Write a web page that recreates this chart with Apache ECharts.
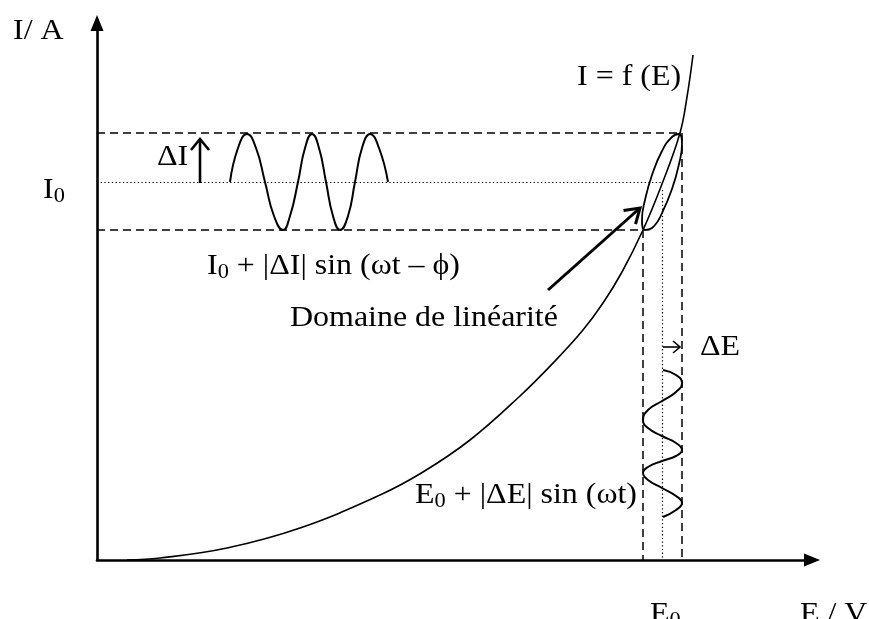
<!DOCTYPE html>
<html>
<head>
<meta charset="utf-8">
<script src="https://cdn.jsdelivr.net/npm/echarts/dist/echarts.min.js"></script>
<style>html,body{margin:0;padding:0;background:#fff}#c{width:869px;height:619px}</style>
</head>
<body>
<div id="c"></div>
<script>
// ---- data (schematic units) ----
const axisEMax = 715;
const axisIMax = 537;

// I = f(E) characteristic
const curveE = [30, 63, 130, 203, 283, 326, 373, 423, 458, 486, 506, 525, 546, 565, 583, 590, 596];
const curveI = [0, 2, 12, 32, 65, 88, 120, 164, 199, 230, 257, 288, 330, 376, 427, 463, 505];

// operating point and perturbation bounds
const E0 = 565, Emin = 546, Emax = 585;
const I0 = 378, Imin = 330, Imax = 427;

// current response wave (horizontal)
const waveIE = [133, 141, 150, 159, 168, 177, 186, 193, 201, 208, 215, 222, 229, 236, 243, 251, 258, 265, 273, 282, 291];
const waveIV = [378, 412, 426, 412, 378, 344, 330, 344, 378, 412, 426, 412, 378, 344, 330, 344, 378, 412, 426, 412, 378];

// potential perturbation wave (vertical)
const waveEE = [566, 579, 585, 579, 565, 551, 546, 551, 565, 579, 585, 579, 565, 551, 546, 551, 565, 579, 585, 579, 566];
const waveEV = [190, 185, 177, 168, 159, 150, 140, 132, 124, 117, 110, 104, 99, 93, 87, 80, 72, 64, 57, 50, 43];

// Lissajous loop
const loopE = [565, 575, 582, 585, 582, 575, 565, 555, 548, 545, 548, 555, 565];
const loopI = [347, 371, 396, 416, 426, 423, 409, 385, 360, 340, 330, 332, 347];

// arrows [E1, I1, E2, I2]
const arrowDI = [103, 377, 103, 421];
const arrowDomain = [451, 270, 543, 352];
const arrowDE = [566, 213, 583, 213];

// ---- build ----
const zip = (a, b) => a.map((v, i) => [v, b[i]]);
const FONT = '"Liberation Serif","Times New Roman",serif';
const INK = '#000';

const arrowStyles = [
  {w: 2.6, len: 11, half: 9},
  {w: 3, len: 14, half: 9},
  {w: 1.6, len: 7, half: 6}
];

const chart = echarts.init(document.getElementById('c'), null, {renderer: 'canvas'});

function lineSeries(data, width, smooth, z) {
  return {
    type: 'line', data: data, smooth: smooth, symbol: 'none', silent: true,
    lineStyle: {color: INK, width: width}, z: z || 3, animation: false
  };
}

function txt(x, y, text, size) {
  return {
    type: 'text', x: x, y: y, scaleX: 1.065, silent: true,
    style: {
      text: text, fill: INK, fontFamily: FONT, fontSize: size || 30,
      lineHeight: 34, align: 'left', verticalAlign: 'middle',
      rich: {s: {fontFamily: FONT, fontSize: 21, lineHeight: 18, verticalAlign: 'bottom', fill: INK}}
    }
  };
}

const option = {
  animation: false,
  backgroundColor: '#fff',
  grid: {left: 97, right: 57, top: 23, bottom: 59, containLabel: false, outerBoundsMode: 'none'},
  xAxis: {
    type: 'value', min: 0, max: axisEMax,
    axisLine: {show: true, onZero: false, symbol: ['none', 'triangle'], symbolSize: [13, 16],
      lineStyle: {color: INK, width: 2.6}},
    axisTick: {show: false}, axisLabel: {show: false}, splitLine: {show: false}
  },
  yAxis: {
    type: 'value', min: 0, max: axisIMax,
    axisLine: {show: true, onZero: false, symbol: ['none', 'triangle'], symbolSize: [13, 16],
      lineStyle: {color: INK, width: 2.6}},
    axisTick: {show: false}, axisLabel: {show: false}, splitLine: {show: false}
  },
  series: [
    lineSeries(zip(curveE, curveI), 1.6, 0.4),
    lineSeries(zip(waveIE, waveIV), 2, 0.5),
    lineSeries(zip(waveEE, waveEV), 2, 0.5),
    lineSeries(zip(loopE, loopI), 1.8, 0.5),
    {
      type: 'lines', coordinateSystem: 'cartesian2d', silent: true, animation: false, z: 2,
      lineStyle: {color: INK, width: 1.5, type: [8, 5], opacity: 1},
      data: [
        {coords: [[0, Imax], [Emax, Imax]]},
        {coords: [[0, Imin], [Emin, Imin]]},
        {coords: [[Emin, Imin], [Emin, 0]]},
        {coords: [[Emax, Imax], [Emax, 0]]}
      ]
    },
    {
      type: 'lines', coordinateSystem: 'cartesian2d', silent: true, animation: false, z: 2,
      lineStyle: {color: INK, width: 1.2, type: [1.3, 2.4], opacity: 1},
      data: [
        {coords: [[0, I0], [E0, I0]]},
        {coords: [[E0, I0 - 8], [E0, 0]]}
      ]
    },
    {
      type: 'custom', coordinateSystem: 'cartesian2d', silent: true, animation: false, z: 5,
      encode: {x: [0, 2], y: [1, 3]},
      data: [arrowDI, arrowDomain, arrowDE],
      renderItem: function (params, api) {
        const s = arrowStyles[params.dataIndex];
        const p1 = api.coord([api.value(0), api.value(1)]);
        const p2 = api.coord([api.value(2), api.value(3)]);
        const a = Math.atan2(p2[1] - p1[1], p2[0] - p1[0]);
        const bx = p2[0] - s.len * Math.cos(a), by = p2[1] - s.len * Math.sin(a);
        const nx = -Math.sin(a), ny = Math.cos(a);
        return {
          type: 'group',
          children: [
            {type: 'line', shape: {x1: p1[0], y1: p1[1], x2: p2[0], y2: p2[1]},
              style: {stroke: INK, lineWidth: s.w}},
            {type: 'polyline', shape: {points: [[bx + nx * s.half, by + ny * s.half], [p2[0], p2[1]], [bx - nx * s.half, by - ny * s.half]]},
              style: {stroke: INK, lineWidth: s.w, fill: null, lineJoin: 'miter'}}
          ]
        };
      }
    }
  ],
  graphic: [
    txt(13, 31, 'I/ A'),
    txt(43, 190, 'I{s|0}'),
    txt(157, 157, 'ΔI'),
    txt(577, 77, 'I = f (E)'),
    txt(207, 266, 'I{s|0} + |ΔI| sin (ωt – ϕ)'),
    txt(290, 318, 'Domaine de linéarité'),
    txt(700, 347, 'ΔE'),
    txt(415, 495, 'E{s|0} + |ΔE| sin (ωt)'),
    txt(650, 614, 'E{s|0}'),
    txt(800, 614, 'E / V')
  ]
};
chart.setOption(option);
</script>
</body>
</html>
